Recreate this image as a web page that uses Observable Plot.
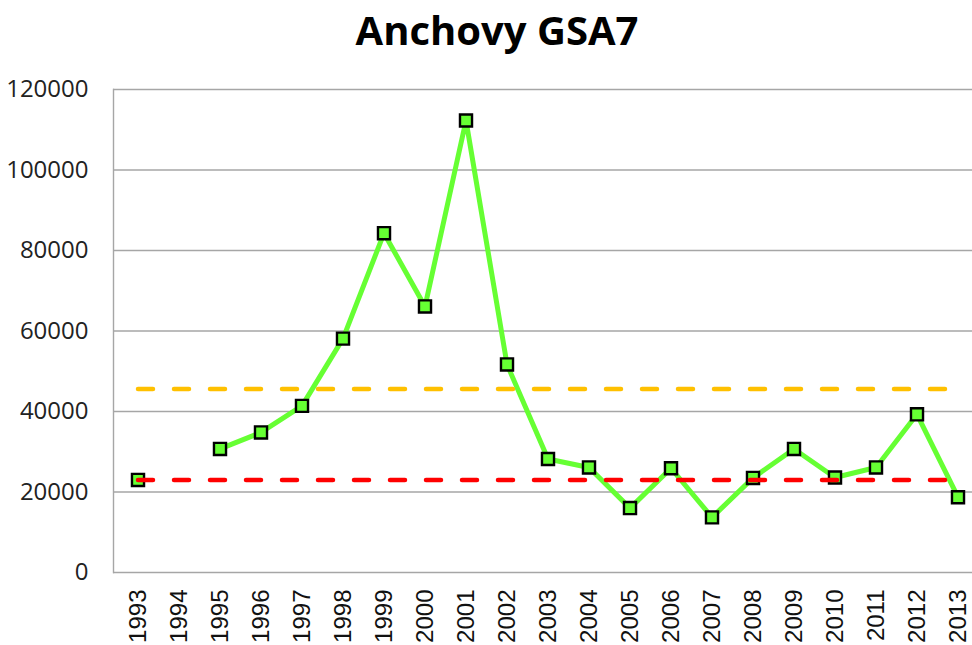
<!DOCTYPE html>
<html>
<head>
<meta charset="utf-8">
<script src="https://cdn.jsdelivr.net/npm/d3@7"></script>
<script src="https://cdn.jsdelivr.net/npm/@observablehq/plot@0.6"></script>
<style>
  html, body { margin: 0; padding: 0; background: #fff; width: 972px; height: 645px; overflow: hidden; }
  #title { height: 60px; line-height: 60px; font-family: "Open Sans", sans-serif; font-weight: 700; font-size: 40px; color: #000; text-align: center; padding-left: 22px; box-sizing: border-box; width: 972px; white-space: nowrap; }
  #chart svg { display: block; overflow: visible; }
</style>
</head>
<body>
<div id="title">Anchovy GSA7</div>
<div id="chart"></div>
<script>
const years = ["1993","1994","1995","1996","1997","1998","1999","2000","2001","2002","2003","2004","2005","2006","2007","2008","2009","2010","2011","2012","2013"];
const biomass = [23000, null, 30700, 34800, 41400, 58100, 84300, 66100, 112300, 51700, 28200, 26100, 16000, 25900, 13700, 23500, 30700, 23600, 26100, 39300, 18700];
const upperRef = 45600;
const lowerRef = 23000;
const yTicks = [0, 20000, 40000, 60000, 80000, 100000, 120000];

const data = years.map((year, i) => ({year, value: biomass[i]}));
const points = data.filter(d => d.value != null);
const refEnds = [years[0], years[years.length - 1]];
const upperLine = refEnds.map(year => ({year, value: upperRef}));
const lowerLine = refEnds.map(year => ({year, value: lowerRef}));

const chart = Plot.plot({
  width: 972,
  height: 585,
  marginLeft: 113,
  marginRight: -10,
  marginTop: 29,
  marginBottom: 73,
  style: {background: "transparent", overflow: "visible"},
  x: {type: "band", domain: years, padding: 0, label: null},
  y: {domain: [0, 120000], label: null},
  marks: [
    Plot.gridY(yTicks, {stroke: "#a6a6a6", strokeOpacity: 1, strokeWidth: 1.4}),
    Plot.frame({anchor: "left", stroke: "#a6a6a6", strokeWidth: 1.4}),
    Plot.axisY(yTicks, {tickSize: 0, tickPadding: 25, fontSize: 24, fontFamily: "Open Sans", fill: "#222", tickFormat: d => String(d)}),
    Plot.axisX({tickSize: 0, tickPadding: 17, tickRotate: -90, fontSize: 24, fontFamily: "Liberation Sans", fill: "#111"}),
    Plot.line(data, {x: "year", y: "value", stroke: "#66ff33", strokeWidth: 5}),
    Plot.dot(points, {x: "year", y: "value", symbol: "square", r: 6.8, fill: "#66ff33", stroke: "#000", strokeWidth: 2.4}),
    Plot.line(upperLine, {x: "year", y: "value", stroke: "#ffc000", strokeWidth: 4.5, strokeDasharray: "15,21", strokeLinecap: "round"}),
    Plot.line(lowerLine, {x: "year", y: "value", stroke: "#ff0000", strokeWidth: 4.5, strokeDasharray: "15,21", strokeLinecap: "round"})
  ]
});
document.getElementById("chart").appendChild(chart);
</script>
</body>
</html>
